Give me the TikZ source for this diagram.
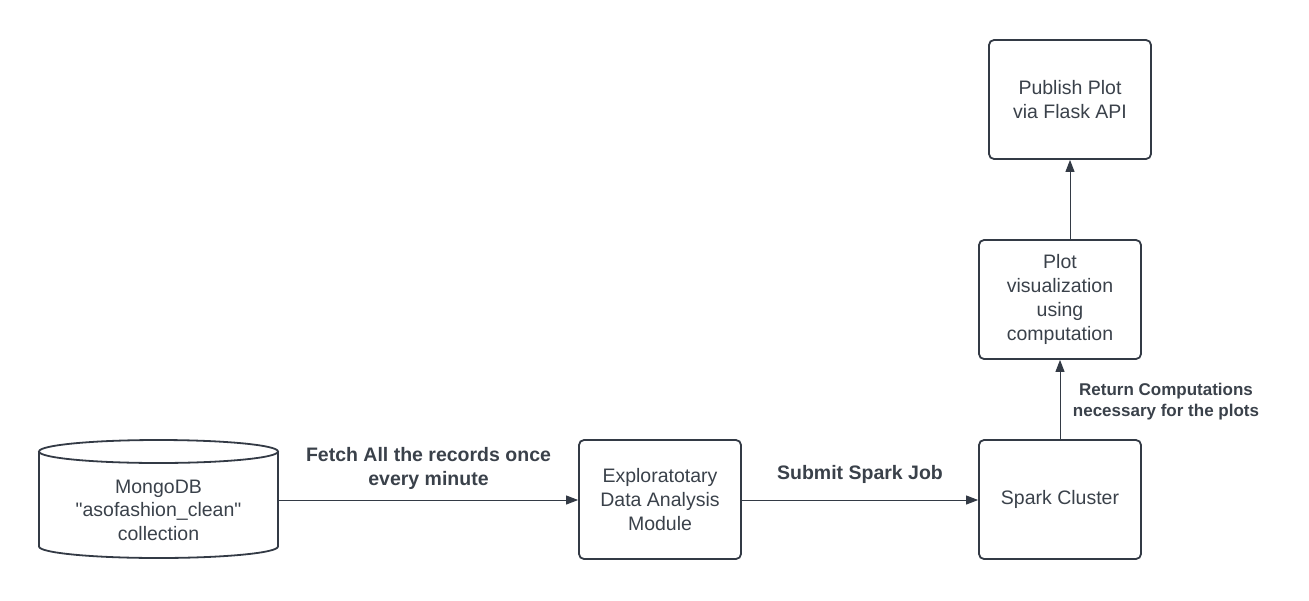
\documentclass[tikz,border=0pt]{standalone}
\usepackage{fontspec}
\setmainfont{Liberation Sans}[Ligatures=TeXOff]
\usetikzlibrary{arrows.meta}
\definecolor{ink}{HTML}{333A45}
\definecolor{txt}{HTML}{3A414A}
\tikzset{
  procbox/.style={draw=ink, line width=1.8pt, rounded corners=5pt, inner sep=0pt, minimum width=162pt, minimum height=119pt, align=center, text=txt, font=\fontsize{19.5}{24}\selectfont},
  conn/.style={draw=ink, line width=1pt, -{Triangle[length=12pt,width=9pt]}},
  lbl/.style={text=txt, align=center, font=\bfseries\fontsize{19.5}{24}\selectfont},
  lblsmall/.style={text=txt, align=center, font=\bfseries\fontsize{17}{21}\selectfont}
}
\begin{document}
\begin{tikzpicture}[x=1pt,y=-1pt]
\useasboundingbox (0,0) rectangle (1309,600);
% cylinder
\node[minimum width=239pt, minimum height=118pt, inner sep=0pt] (db) at (158.5,499) {};
\draw[draw=ink, line width=1.8pt] (39,451.5) -- (39,546.5) arc[start angle=180, end angle=0, x radius=119.5, y radius=11.5] -- (278,451.5);
\draw[draw=ink, line width=1.8pt] (158.5,451.5) ellipse[x radius=119.5, y radius=11.5];
\node[align=center, text=txt, font=\fontsize{19.5}{23.5}\selectfont] (dbtext) at (158.5,510) {MongoDB\\"asofashion\_clean"\\collection};
% boxes
\node[procbox] (eda) at (660,499.5) {Exploratotary\\Data Analysis\\Module};
\node[procbox] (spark) at (1060,499.5) {Spark Cluster};
\node[procbox] (plot) at (1060,299.5) {Plot\\visualization\\using\\computation};
\node[procbox] (pub) at (1070,99.5) {Publish Plot\\via Flask API};
% connectors
\draw[conn] (db.east |- 0,500) -- (eda.west |- 0,500);
\draw[conn] (eda.east |- 0,500) -- (spark.west |- 0,500);
\draw[conn] (spark.north) -- (plot.south);
\draw[conn] (plot.north -| 1070,0) -- (pub.south);
% labels
\node[lbl] (l1) at (428.5,468) {Fetch All the records once\\every minute};
\node[lbl] (l2) at (860,474) {Submit Spark Job};
\node[lblsmall] (l3) at (1166,402) {Return Computations\\necessary for the plots};
\end{tikzpicture}
\end{document}
